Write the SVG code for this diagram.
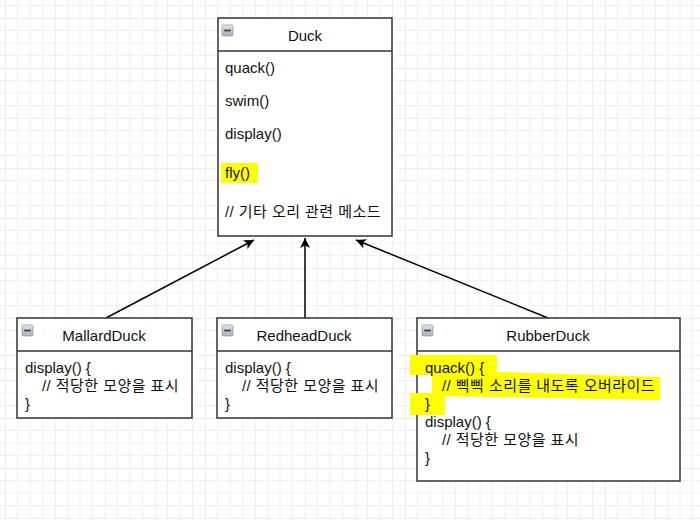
<svg xmlns="http://www.w3.org/2000/svg" width="700" height="520" viewBox="0 0 700 520">
<style>
.box{fill:#fff;stroke:#333;stroke-width:1.5}
.div{stroke:#333;stroke-width:1.5}
.t{font-family:"Liberation Sans","Noto Sans CJK KR",Arial,sans-serif;font-size:15px;fill:#111}
.k{letter-spacing:0.45px}
.c{text-anchor:middle}
.hl{fill:#ffff00}
.edge{stroke:#000;stroke-width:1.5;fill:none}
</style>
<defs>
<pattern id="grid" x="5" y="18" width="50" height="50" patternUnits="userSpaceOnUse">
<path d="M12.5 0V50M25 0V50M37.5 0V50M0 12.5H50M0 25H50M0 37.5H50" stroke="#f0f0f0" stroke-width="1" fill="none"/>
<path d="M0 0V50M0 0H50" stroke="#e0e0e0" stroke-width="1" fill="none"/>
</pattern>
<linearGradient id="ig" x1="0" y1="0" x2="0" y2="1">
<stop offset="0" stop-color="#e2e7ec"/>
<stop offset="1" stop-color="#a4aeba"/>
</linearGradient>
<g id="icon">
<rect x="0" y="0" width="11" height="11" rx="1.2" fill="url(#ig)" stroke="#95a0ab" stroke-width="0.8"/>
<rect x="2.2" y="4.6" width="6.6" height="1.8" fill="#444"/>
</g>
<marker id="arr" viewBox="0 0 10 10" refX="10" refY="5" markerWidth="10" markerHeight="10" markerUnits="userSpaceOnUse" orient="auto">
<path d="M0 0L10 5L0 10L2.5 5Z" fill="#000"/>
</marker>
</defs>
<rect x="0" y="0" width="700" height="520" fill="#fff"/>
<rect x="0" y="0" width="700" height="520" fill="url(#grid)"/>

<g id="connectors">
<line class="edge" x1="106" y1="318" x2="254" y2="240" marker-end="url(#arr)"/>
<line class="edge" x1="305" y1="318" x2="305" y2="238" marker-end="url(#arr)"/>
<line class="edge" x1="548" y1="318" x2="356" y2="240" marker-end="url(#arr)"/>
</g>

<g id="Duck">
<rect class="box" x="218" y="18" width="174" height="218"/>
<line class="div" x1="218" y1="51" x2="392" y2="51"/>
<use href="#icon" x="222" y="25"/>
<text class="t c" x="305" y="41">Duck</text>
<text class="t" x="225" y="73">quack()</text>
<text class="t" x="225" y="106">swim()</text>
<text class="t" x="225" y="139">display()</text>
<rect class="hl" x="221" y="163" width="37" height="20"/>
<text class="t" x="225" y="178">fly()</text>
<text class="t k" x="225" y="217">// 기타 오리 관련 메소드</text>
</g>

<g id="MallardDuck">
<rect class="box" x="17" y="318" width="175" height="100"/>
<line class="div" x1="17" y1="351" x2="192" y2="351"/>
<use href="#icon" x="22" y="325"/>
<text class="t c" x="104" y="341">MallardDuck</text>
<text class="t" x="25" y="373">display() {</text>
<text class="t k" x="42" y="391">// 적당한 모양을 표시</text>
<text class="t" x="25" y="409">}</text>
</g>

<g id="RedheadDuck">
<rect class="box" x="217" y="318" width="175" height="100"/>
<line class="div" x1="217" y1="351" x2="392" y2="351"/>
<use href="#icon" x="222" y="325"/>
<text class="t c" x="304" y="341">RedheadDuck</text>
<text class="t" x="225" y="373">display() {</text>
<text class="t k" x="242" y="391">// 적당한 모양을 표시</text>
<text class="t" x="225" y="409">}</text>
</g>

<g id="RubberDuck">
<rect class="box" x="417" y="318" width="263" height="163"/>
<line class="div" x1="417" y1="351" x2="680" y2="351"/>
<use href="#icon" x="422" y="325"/>
<text class="t c" x="548" y="341">RubberDuck</text>
<path class="hl" d="M410 355H497V375H410Z M432 372H500L660 377V400L432 396Z M410 393H445V415H410Z"/>
<text class="t" x="425" y="373">quack() {</text>
<text class="t k" x="442" y="391">// 삑삑 소리를 내도록 오버라이드</text>
<text class="t" x="425" y="409">}</text>
<text class="t" x="425" y="427">display() {</text>
<text class="t k" x="442" y="445">// 적당한 모양을 표시</text>
<text class="t" x="425" y="463">}</text>
</g>
</svg>
